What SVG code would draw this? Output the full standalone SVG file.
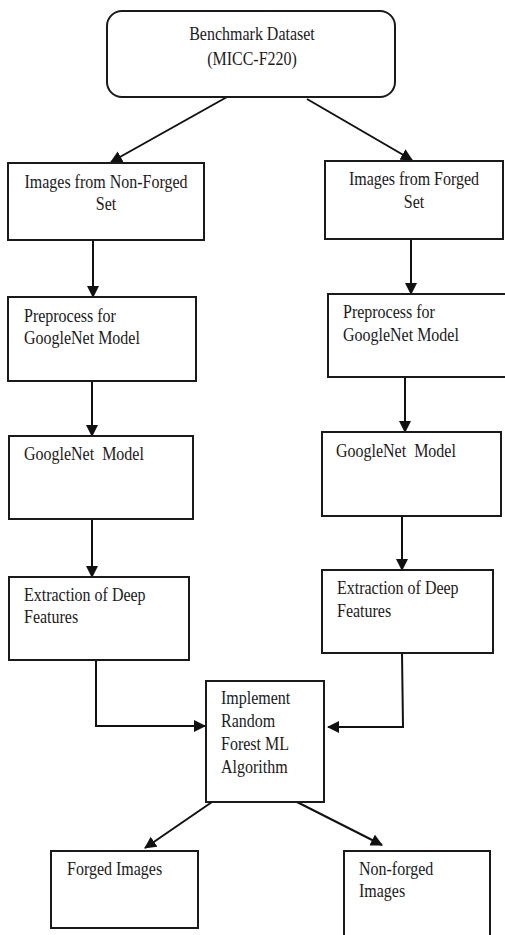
<svg xmlns="http://www.w3.org/2000/svg" width="505" height="935" viewBox="0 0 505 935">
<style>
.box{fill:#fff;stroke:#1a1a1a;stroke-width:2}
.t{font-family:"Liberation Serif","Times New Roman",serif;font-size:16px;fill:#1a1a1a}
.m{text-anchor:middle}
.c{fill:none;stroke:#111;stroke-width:2}
</style>
<defs>
<marker id="ah" markerUnits="userSpaceOnUse" markerWidth="12" markerHeight="12" refX="11" refY="6" orient="auto" viewBox="0 0 12 12">
<path d="M0,0 L12,6 L0,12 z" fill="#111"/>
</marker>
</defs>
<rect width="505" height="935" fill="#fff"/>
<g id="connectors">
<line class="c" x1="227" y1="97" x2="111" y2="162" marker-end="url(#ah)"/>
<line class="c" x1="307" y1="99" x2="412" y2="160" marker-end="url(#ah)"/>
<line class="c" x1="93" y1="240" x2="93" y2="297" marker-end="url(#ah)"/>
<line class="c" x1="411" y1="239" x2="411" y2="294" marker-end="url(#ah)"/>
<line class="c" x1="92" y1="381" x2="92" y2="436" marker-end="url(#ah)"/>
<line class="c" x1="405" y1="377" x2="405" y2="432" marker-end="url(#ah)"/>
<line class="c" x1="92" y1="519" x2="92" y2="577" marker-end="url(#ah)"/>
<line class="c" x1="402" y1="516" x2="402" y2="570" marker-end="url(#ah)"/>
<polyline class="c" points="96,660 96,726 205,726" marker-end="url(#ah)"/>
<polyline class="c" points="402,653 403,727 328,727" marker-end="url(#ah)"/>
<line class="c" x1="212" y1="802" x2="145" y2="848" marker-end="url(#ah)"/>
<line class="c" x1="297" y1="802" x2="382" y2="845" marker-end="url(#ah)"/>
</g>
<g id="benchmark">
<rect class="box" x="107" y="11" width="288" height="86" rx="15" ry="15"/>
<text class="t m" transform="translate(252,40) scale(1,1.2)">Benchmark Dataset</text>
<text class="t m" transform="translate(252,65) scale(1,1.2)">(MICC-F220)</text>
</g>
<g id="nonforged-set">
<rect class="box" x="8" y="163" width="196" height="77"/>
<text class="t m" transform="translate(106,188) scale(1,1.2)">Images from Non-Forged</text>
<text class="t m" transform="translate(106,210) scale(1,1.2)">Set</text>
</g>
<g id="forged-set">
<rect class="box" x="325" y="161" width="178" height="78"/>
<text class="t m" transform="translate(414,185) scale(1,1.2)">Images from Forged</text>
<text class="t m" transform="translate(414,208) scale(1,1.2)">Set</text>
</g>
<g id="preprocess-left">
<rect class="box" x="8" y="297" width="188" height="84"/>
<text class="t" transform="translate(24,322) scale(1,1.2)">Preprocess for</text>
<text class="t" transform="translate(24,344) scale(1,1.2)">GoogleNet Model</text>
</g>
<g id="preprocess-right">
<rect class="box" x="328" y="294" width="180" height="83"/>
<text class="t" transform="translate(343,318) scale(1,1.2)">Preprocess for</text>
<text class="t" transform="translate(343,341) scale(1,1.2)">GoogleNet Model</text>
</g>
<g id="googlenet-left">
<rect class="box" x="9" y="436" width="184" height="83"/>
<text class="t" transform="translate(24,460) scale(1,1.2)" xml:space="preserve">GoogleNet  Model</text>
</g>
<g id="googlenet-right">
<rect class="box" x="322" y="432" width="179" height="84"/>
<text class="t" transform="translate(336,457) scale(1,1.2)" xml:space="preserve">GoogleNet  Model</text>
</g>
<g id="extract-left">
<rect class="box" x="9" y="577" width="180" height="83"/>
<text class="t" transform="translate(24,601) scale(1,1.2)">Extraction of Deep</text>
<text class="t" transform="translate(24,623) scale(1,1.2)">Features</text>
</g>
<g id="extract-right">
<rect class="box" x="322" y="570" width="171" height="83"/>
<text class="t" transform="translate(337,594) scale(1,1.2)">Extraction of Deep</text>
<text class="t" transform="translate(337,617) scale(1,1.2)">Features</text>
</g>
<g id="random-forest">
<rect class="box" x="206" y="681" width="118" height="121"/>
<text class="t" transform="translate(221,704) scale(1,1.2)">Implement</text>
<text class="t" transform="translate(221,727) scale(1,1.2)">Random</text>
<text class="t" transform="translate(221,750) scale(1,1.2)">Forest ML</text>
<text class="t" transform="translate(221,773) scale(1,1.2)">Algorithm</text>
</g>
<g id="forged-images">
<rect class="box" x="51" y="851" width="147" height="77"/>
<text class="t" transform="translate(67,875) scale(1,1.2)">Forged Images</text>
</g>
<g id="nonforged-images">
<rect class="box" x="344" y="851" width="146" height="90"/>
<text class="t" transform="translate(359,875) scale(1,1.2)">Non-forged</text>
<text class="t" transform="translate(359,897) scale(1,1.2)">Images</text>
</g>
</svg>
